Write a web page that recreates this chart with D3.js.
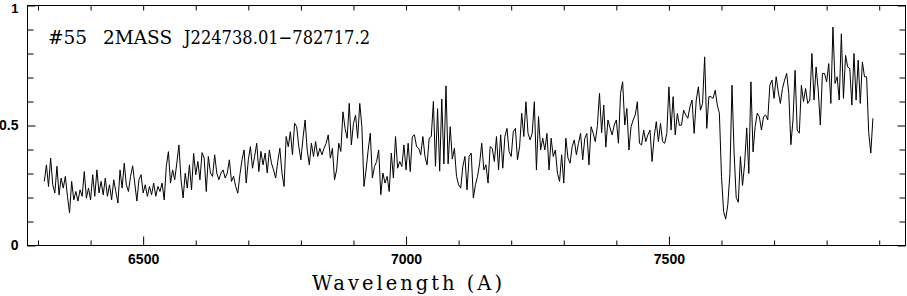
<!DOCTYPE html>
<html><head><meta charset="utf-8">
<script src="https://cdn.jsdelivr.net/npm/d3@7"></script>
<style>html,body{margin:0;padding:0;background:#fff;} svg{display:block}</style>
</head><body>
<svg id="c" width="907" height="296"></svg>
<script>
const titleParts = ["#55", "2MASS", "J224738.01\u2212782717.2"];
const xLabel = "Wavelength (A)";
const xDomain = [6280, 7950];
const yDomain = [0, 1];
const xMajorTicks = [6500, 7000, 7500];
const xMinorTicks = [6300, 6400, 6600, 6700, 6800, 6900, 7100, 7200, 7300, 7400, 7600, 7700, 7800, 7900];
const yMajorTicks = [0, 0.5, 1];
const yMinorTicks = [0.1, 0.2, 0.3, 0.4, 0.6, 0.7, 0.8, 0.9];
const yTickLabels = ["0", "0.5", "1"];
// spectrum sampled on a regular wavelength grid (Angstrom)
const wlStart = 6312, wlStep = 4;
const flux = [
0.267,0.336,0.246,0.364,0.253,0.219,0.33,0.211,0.281,0.239,
0.288,0.205,0.136,0.267,0.19,0.225,0.185,0.232,0.205,0.308,
0.198,0.239,0.19,0.295,0.205,0.315,0.219,0.267,0.211,0.281,
0.205,0.253,0.19,0.274,0.225,0.177,0.315,0.239,0.343,0.253,
0.225,0.288,0.332,0.26,0.185,0.274,0.295,0.219,0.253,0.205,
0.246,0.211,0.26,0.205,0.246,0.225,0.26,0.19,0.33,0.391,
0.26,0.315,0.274,0.343,0.419,0.274,0.198,0.301,0.239,0.336,
0.232,0.384,0.295,0.35,0.274,0.387,0.364,0.225,
0.371,0.302,0.288,0.378,0.302,0.274,0.302,0.315,0.281,0.302,
0.357,0.267,0.288,0.246,0.218,0.295,0.357,0.398,0.26,0.357,
0.412,0.322,0.371,0.426,0.308,0.392,0.336,0.385,0.302,0.398,
0.343,0.315,0.281,0.35,0.405,0.302,0.246,0.454,0.412,0.474,
0.378,0.509,0.495,0.412,0.357,0.447,0.523,0.398,0.336,0.426,
0.371,0.433,0.371,0.405,0.378,0.405,0.426,0.461,0.364,0.405,
0.274,0.315,0.426,0.392,0.557,0.488,0.447,0.592,0.419,0.509,
0.543,0.447,0.592,0.495,0.246,0.315,0.398,0.468,0.281,
0.329,0.35,0.398,0.212,0.302,0.26,0.288,0.225,0.385,0.281,
0.454,0.322,0.35,0.329,0.419,0.315,0.426,0.308,0.454,0.461,
0.412,0.405,0.378,0.454,0.371,0.336,0.447,0.454,0.60,0.33,
0.57,0.31,0.61,0.34,0.665,0.34,0.495,0.36,0.405,0.288,
0.253,0.239,0.329,0.371,0.232,0.371,0.385,0.198,0.253,0.288,
0.343,0.426,0.315,0.336,0.26,0.412,0.405,0.35,0.454,0.315,
0.461,0.322,0.454,0.488,0.392,0.371,0.474,0.488,0.357,0.412,
0.551,0.454,0.599,0.468,0.44,0.468,0.599,0.315,0.537,0.398,
0.447,
0.398,0.467,0.315,0.447,0.371,0.398,0.301,0.267,0.378,0.26,
0.447,0.364,0.343,0.412,0.44,0.378,0.426,0.467,0.357,0.447,
0.467,0.336,0.495,0.467,0.433,0.50,0.634,0.47,0.585,0.41,
0.523,0.49,0.461,0.502,0.523,0.426,0.634,0.682,0.502,0.571,
0.398,0.495,0.523,0.544,0.599,0.426,0.419,0.481,0.433,0.461,
0.481,0.35,0.454,0.516,0.433,0.509,0.433,0.426,0.467,0.661,
0.481,0.62,0.461,0.55,0.50,0.502,0.564,0.544,0.53,0.578,
0.606,0.467,0.606,0.661,0.564,0.592,0.786,0.488,0.62,
0.62,0.613,0.647,0.585,0.551,0.288,0.142,0.11,0.17,0.30,
0.668,0.385,0.20,0.18,0.37,0.25,0.34,0.49,0.30,0.682,
0.39,0.495,0.551,0.537,0.481,0.537,0.544,0.523,0.668,0.689,
0.613,0.703,0.64,0.592,0.654,0.689,0.717,0.633,0.42,0.523,
0.73,0.481,0.468,0.668,0.6,0.654,0.592,0.606,0.8,0.606,
0.744,0.647,0.502,0.717,0.717,0.682,0.758,0.592,0.91,0.675,
0.703,0.606,0.882,0.613,0.792,0.744,0.737,0.585,0.8,0.606,
0.772,0.592,0.765,0.703,0.703,0.47,0.385,0.53
];

const svg = d3.select("#c");
const L = 27.5, R = 905.5, T = 5.5, B = 245.5;
const x = d3.scaleLinear().domain(xDomain).range([L, R]);
const y = d3.scaleLinear().domain(yDomain).range([B, T]);

const tickFont = "'Liberation Sans', Arial, sans-serif";

function styleAxis(g) {
  g.select(".domain").remove();
  g.selectAll(".tick line").attr("stroke", "#000").attr("stroke-width", 1);
  g.selectAll(".tick text").attr("fill", "#000").style("font-family", tickFont)
    .style("font-size", "14px").style("font-weight", "bold");
}

// bottom major with labels
svg.append("g").attr("transform", `translate(0,${B})`)
  .call(d3.axisBottom(x).tickValues(xMajorTicks).tickSizeInner(-9).tickSizeOuter(0).tickPadding(9).tickFormat(d3.format("d")))
  .call(styleAxis);
svg.append("g").attr("transform", `translate(0,${B})`)
  .call(d3.axisBottom(x).tickValues(xMinorTicks).tickSizeInner(-5).tickSizeOuter(0).tickFormat(""))
  .call(styleAxis);
// top
svg.append("g").attr("transform", `translate(0,${T})`)
  .call(d3.axisTop(x).tickValues(xMajorTicks.concat(xMinorTicks)).tickSizeInner(-5).tickSizeOuter(0).tickFormat(""))
  .call(styleAxis);
// left
const leftAx = svg.append("g").attr("transform", `translate(${L},0)`)
  .call(d3.axisLeft(y).tickValues(yMajorTicks).tickSizeInner(-8).tickSizeOuter(0).tickPadding(9)
    .tickFormat((d, i) => yTickLabels[i]))
  .call(styleAxis);
// keep the top label inside the picture
leftAx.selectAll(".tick text").filter(d => d === 1).attr("dy", "0.5em").style("font-size", "13px");
svg.append("g").attr("transform", `translate(${L},0)`)
  .call(d3.axisLeft(y).tickValues(yMinorTicks).tickSizeInner(-6).tickSizeOuter(0).tickFormat(""))
  .call(styleAxis);
// right
svg.append("g").attr("transform", `translate(${R},0)`)
  .call(d3.axisRight(y).tickValues(yMajorTicks).tickSizeInner(-8).tickSizeOuter(0).tickFormat(""))
  .call(styleAxis);
svg.append("g").attr("transform", `translate(${R},0)`)
  .call(d3.axisRight(y).tickValues(yMinorTicks).tickSizeInner(-6).tickSizeOuter(0).tickFormat(""))
  .call(styleAxis);

// frame
svg.append("rect").attr("x", L).attr("y", T).attr("width", R - L).attr("height", B - T)
  .attr("fill", "none").attr("stroke", "#000").attr("stroke-width", 1);

// spectrum
const line = d3.line().x((d, i) => x(wlStart + i * wlStep)).y(d => y(d));
svg.append("path").datum(flux).attr("d", line)
  .attr("fill", "none").attr("stroke", "#000").attr("stroke-width", 1).attr("stroke-linejoin", "miter");

// title (three words, placed as in the reference)
const titleX = [48, 103, 184], titleW = [null, null, 186];
const tg = svg.append("g").style("font-family", "'DejaVu Serif', serif").style("font-size", "18.5px").attr("fill", "#000");
titleParts.forEach((t, i) => {
  const el = tg.append("text").attr("x", titleX[i]).attr("y", 43.5).text(t);
  if (titleW[i]) el.attr("textLength", titleW[i]).attr("lengthAdjust", "spacingAndGlyphs");
});

// x label
svg.append("text").attr("x", 312).attr("y", 290).text(xLabel)
  .attr("textLength", 190).attr("lengthAdjust", "spacing")
  .style("white-space", "pre")
  .style("font-family", "'DejaVu Serif', serif").style("font-size", "19.5px").attr("fill", "#000");
</script>
</body></html>
